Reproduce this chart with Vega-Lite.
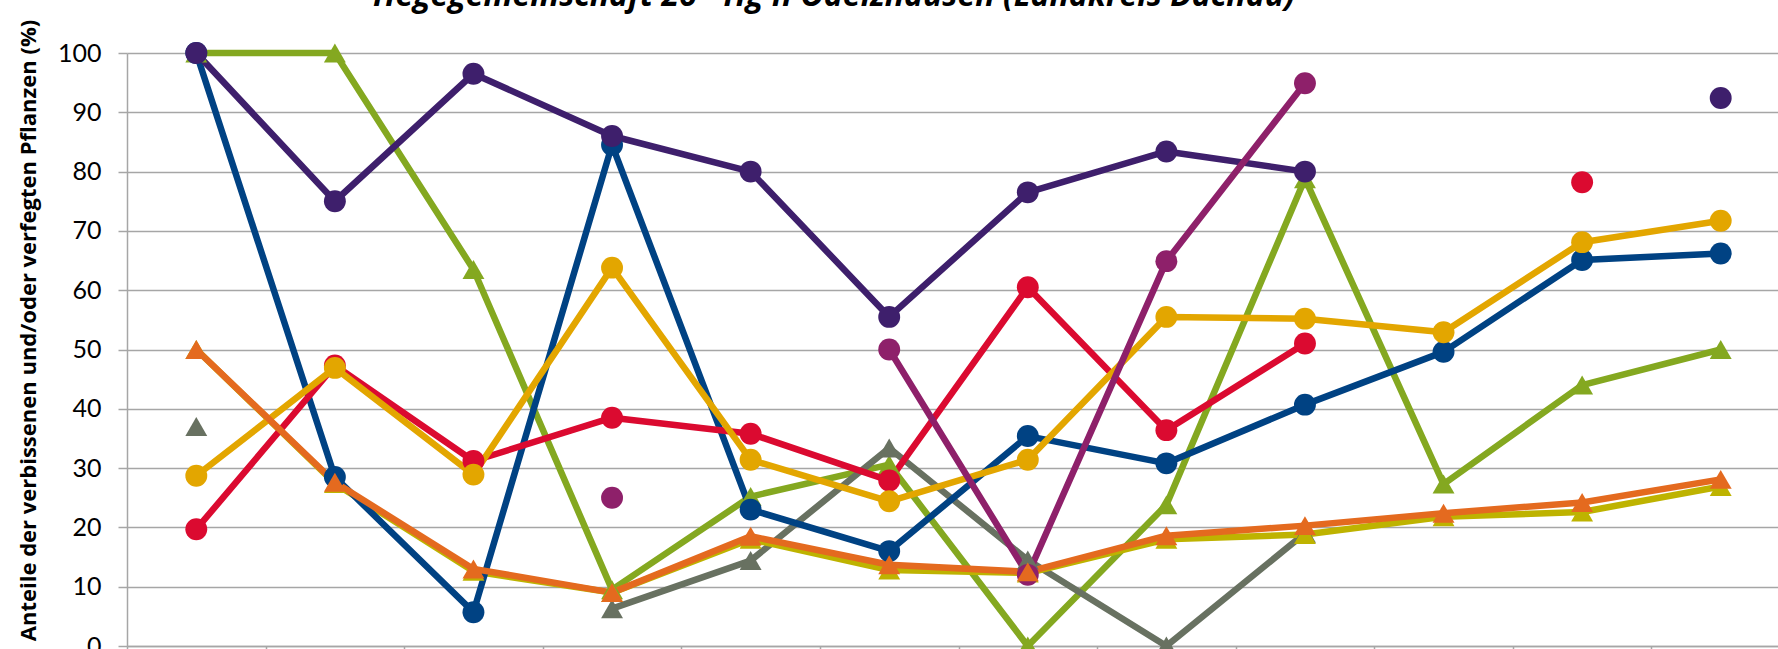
{
  "$schema": "https://vega.github.io/schema/vega-lite/v6.json",
  "autosize": {"type": "none"},
  "padding": {"left": 127, "top": 53, "right": 0, "bottom": 3},
  "width": 1663,
  "height": 593,
  "background": "white",
  "config": {"view": {"stroke": null}},
  "title": {
    "text": "Hegegemeinschaft 26 - Hg II Odelzhausen (Landkreis Dachau)",
    "font": "Open Sans",
    "fontSize": 32,
    "fontWeight": "bold",
    "fontStyle": "italic",
    "color": "black",
    "anchor": "start",
    "frame": "group",
    "dx": 246,
    "baseline": "alphabetic",
    "offset": -19
  },
  "data": {
    "values": [
      {"s": "Grün", "g": "Grün", "k": 1, "v": 100},
      {"s": "Grün", "g": "Grün", "k": 2, "v": 100},
      {"s": "Grün", "g": "Grün", "k": 3, "v": 63.5},
      {"s": "Grün", "g": "Grün", "k": 4, "v": 9.5},
      {"s": "Grün", "g": "Grün", "k": 5, "v": 25.2},
      {"s": "Grün", "g": "Grün", "k": 6, "v": 30.6},
      {"s": "Grün", "g": "Grün", "k": 7, "v": 0},
      {"s": "Grün", "g": "Grün", "k": 8, "v": 23.8},
      {"s": "Grün", "g": "Grün", "k": 9, "v": 78.8},
      {"s": "Grün", "g": "Grün", "k": 10, "v": 27.3},
      {"s": "Grün", "g": "Grün", "k": 11, "v": 44},
      {"s": "Grün", "g": "Grün", "k": 12, "v": 50},
      {"s": "Grau", "g": "Grau-a", "k": 1, "v": 37},
      {"s": "Grau", "g": "Grau-b", "k": 4, "v": 6.3},
      {"s": "Grau", "g": "Grau-b", "k": 5, "v": 14.4},
      {"s": "Grau", "g": "Grau-b", "k": 6, "v": 33.4},
      {"s": "Grau", "g": "Grau-b", "k": 7, "v": 14.5},
      {"s": "Grau", "g": "Grau-b", "k": 8, "v": 0},
      {"s": "Grau", "g": "Grau-b", "k": 9, "v": 19},
      {"s": "Oliv", "g": "Oliv", "k": 1, "v": 50},
      {"s": "Oliv", "g": "Oliv", "k": 2, "v": 27.4},
      {"s": "Oliv", "g": "Oliv", "k": 3, "v": 12.6},
      {"s": "Oliv", "g": "Oliv", "k": 4, "v": 9},
      {"s": "Oliv", "g": "Oliv", "k": 5, "v": 18},
      {"s": "Oliv", "g": "Oliv", "k": 6, "v": 12.8},
      {"s": "Oliv", "g": "Oliv", "k": 7, "v": 12.3},
      {"s": "Oliv", "g": "Oliv", "k": 8, "v": 18},
      {"s": "Oliv", "g": "Oliv", "k": 9, "v": 18.8},
      {"s": "Oliv", "g": "Oliv", "k": 10, "v": 21.8},
      {"s": "Oliv", "g": "Oliv", "k": 11, "v": 22.6},
      {"s": "Oliv", "g": "Oliv", "k": 12, "v": 26.9},
      {"s": "Blau", "g": "Blau", "k": 1, "v": 100},
      {"s": "Blau", "g": "Blau", "k": 2, "v": 28.5},
      {"s": "Blau", "g": "Blau", "k": 3, "v": 5.7},
      {"s": "Blau", "g": "Blau", "k": 4, "v": 84.5},
      {"s": "Blau", "g": "Blau", "k": 5, "v": 23},
      {"s": "Blau", "g": "Blau", "k": 6, "v": 16},
      {"s": "Blau", "g": "Blau", "k": 7, "v": 35.4},
      {"s": "Blau", "g": "Blau", "k": 8, "v": 30.8},
      {"s": "Blau", "g": "Blau", "k": 9, "v": 40.7},
      {"s": "Blau", "g": "Blau", "k": 10, "v": 49.6},
      {"s": "Blau", "g": "Blau", "k": 11, "v": 65.1},
      {"s": "Blau", "g": "Blau", "k": 12, "v": 66.2},
      {"s": "Rot", "g": "Rot-a", "k": 1, "v": 19.7},
      {"s": "Rot", "g": "Rot-a", "k": 2, "v": 47.3},
      {"s": "Rot", "g": "Rot-a", "k": 3, "v": 31.2},
      {"s": "Rot", "g": "Rot-a", "k": 4, "v": 38.5},
      {"s": "Rot", "g": "Rot-a", "k": 5, "v": 35.8},
      {"s": "Rot", "g": "Rot-a", "k": 6, "v": 27.9},
      {"s": "Rot", "g": "Rot-a", "k": 7, "v": 60.5},
      {"s": "Rot", "g": "Rot-a", "k": 8, "v": 36.4},
      {"s": "Rot", "g": "Rot-a", "k": 9, "v": 51},
      {"s": "Rot", "g": "Rot-b", "k": 11, "v": 78.2},
      {"s": "Gelb", "g": "Gelb", "k": 1, "v": 28.7},
      {"s": "Gelb", "g": "Gelb", "k": 2, "v": 46.9},
      {"s": "Gelb", "g": "Gelb", "k": 3, "v": 28.9},
      {"s": "Gelb", "g": "Gelb", "k": 4, "v": 63.8},
      {"s": "Gelb", "g": "Gelb", "k": 5, "v": 31.4},
      {"s": "Gelb", "g": "Gelb", "k": 6, "v": 24.4},
      {"s": "Gelb", "g": "Gelb", "k": 7, "v": 31.4},
      {"s": "Gelb", "g": "Gelb", "k": 8, "v": 55.5},
      {"s": "Gelb", "g": "Gelb", "k": 9, "v": 55.2},
      {"s": "Gelb", "g": "Gelb", "k": 10, "v": 52.9},
      {"s": "Gelb", "g": "Gelb", "k": 11, "v": 68.1},
      {"s": "Gelb", "g": "Gelb", "k": 12, "v": 71.7},
      {"s": "Violett", "g": "Violett-a", "k": 1, "v": 100},
      {"s": "Violett", "g": "Violett-a", "k": 2, "v": 75},
      {"s": "Violett", "g": "Violett-a", "k": 3, "v": 96.5},
      {"s": "Violett", "g": "Violett-a", "k": 4, "v": 86},
      {"s": "Violett", "g": "Violett-a", "k": 5, "v": 80},
      {"s": "Violett", "g": "Violett-a", "k": 6, "v": 55.5},
      {"s": "Violett", "g": "Violett-a", "k": 7, "v": 76.5},
      {"s": "Violett", "g": "Violett-a", "k": 8, "v": 83.4},
      {"s": "Violett", "g": "Violett-a", "k": 9, "v": 80},
      {"s": "Violett", "g": "Violett-b", "k": 12, "v": 92.4},
      {"s": "Magenta", "g": "Magenta-a", "k": 4, "v": 25},
      {"s": "Magenta", "g": "Magenta-b", "k": 6, "v": 50},
      {"s": "Magenta", "g": "Magenta-b", "k": 7, "v": 12},
      {"s": "Magenta", "g": "Magenta-b", "k": 8, "v": 64.9},
      {"s": "Magenta", "g": "Magenta-b", "k": 9, "v": 94.9},
      {"s": "Orange", "g": "Orange", "k": 1, "v": 50},
      {"s": "Orange", "g": "Orange", "k": 2, "v": 27.6},
      {"s": "Orange", "g": "Orange", "k": 3, "v": 13},
      {"s": "Orange", "g": "Orange", "k": 4, "v": 9},
      {"s": "Orange", "g": "Orange", "k": 5, "v": 18.5},
      {"s": "Orange", "g": "Orange", "k": 6, "v": 13.7},
      {"s": "Orange", "g": "Orange", "k": 7, "v": 12.5},
      {"s": "Orange", "g": "Orange", "k": 8, "v": 18.6},
      {"s": "Orange", "g": "Orange", "k": 9, "v": 20.3},
      {"s": "Orange", "g": "Orange", "k": 10, "v": 22.4},
      {"s": "Orange", "g": "Orange", "k": 11, "v": 24.2},
      {"s": "Orange", "g": "Orange", "k": 12, "v": 28.1}
    ]
  },
  "encoding": {
    "x": {
      "field": "k",
      "type": "quantitative",
      "scale": {"domain": [0.5, 12.5], "nice": false, "zero": false},
      "axis": {
        "values": [0.5, 1.5, 2.5, 3.5, 4.5, 5.5, 6.5, 7.5, 8.5, 9.5, 10.5, 11.5, 12.5],
        "labels": false,
        "grid": false,
        "ticks": true,
        "tickSize": 9,
        "tickColor": "#A6A6A6",
        "tickWidth": 1.5,
        "domainColor": "#A6A6A6",
        "domainWidth": 1.5,
        "title": null
      }
    },
    "y": {
      "field": "v",
      "type": "quantitative",
      "scale": {"domain": [0, 100], "nice": false},
      "axis": {
        "values": [0, 10, 20, 30, 40, 50, 60, 70, 80, 90, 100],
        "grid": true,
        "gridColor": "#A6A6A6",
        "gridWidth": 1.5,
        "domainColor": "#A6A6A6",
        "domainWidth": 1.5,
        "ticks": true,
        "tickSize": 9,
        "tickColor": "#A6A6A6",
        "tickWidth": 1.5,
        "labelFont": "Lato",
        "labelFontSize": 25,
        "labelColor": "black",
        "labelPadding": 17,
        "title": "Anteile der verbissenen und/oder verfegten Pflanzen (%)",
        "titleFont": "Open Sans",
        "titleFontSize": 22,
        "titleFontWeight": "bold",
        "titleColor": "black",
        "titleAngle": 270,
        "titleAlign": "center",
        "titleBaseline": "alphabetic",
        "titleX": -92,
        "titleY": 277
      }
    },
    "color": {
      "field": "s",
      "type": "nominal",
      "legend": null,
      "scale": {
        "domain": ["Grün", "Grau", "Oliv", "Blau", "Rot", "Gelb", "Violett", "Magenta", "Orange"],
        "range": ["#84A820", "#687161", "#BEB300", "#004283", "#DB0A30", "#E3A600", "#3E1F6C", "#8E206A", "#E46A1F"]
      }
    }
  },
  "layer": [
    {
      "mark": {"type": "line", "strokeWidth": 6.5, "strokeJoin": "round"},
      "encoding": {"detail": {"field": "g", "type": "nominal"}}
    },
    {
      "mark": {"type": "point", "filled": true, "opacity": 1, "strokeWidth": 0},
      "encoding": {
        "shape": {
          "field": "s",
          "type": "nominal",
          "legend": null,
          "scale": {
            "domain": ["Grün", "Grau", "Oliv", "Blau", "Rot", "Gelb", "Violett", "Magenta", "Orange"],
            "range": ["triangle-up", "triangle-up", "triangle-up", "circle", "circle", "circle", "circle", "circle", "triangle-up"]
          }
        },
        "size": {
          "field": "s",
          "type": "nominal",
          "legend": null,
          "scale": {
            "domain": ["Grün", "Grau", "Oliv", "Blau", "Rot", "Gelb", "Violett", "Magenta", "Orange"],
            "range": [480, 480, 480, 400, 400, 400, 400, 400, 480]
          }
        }
      }
    }
  ]
}
